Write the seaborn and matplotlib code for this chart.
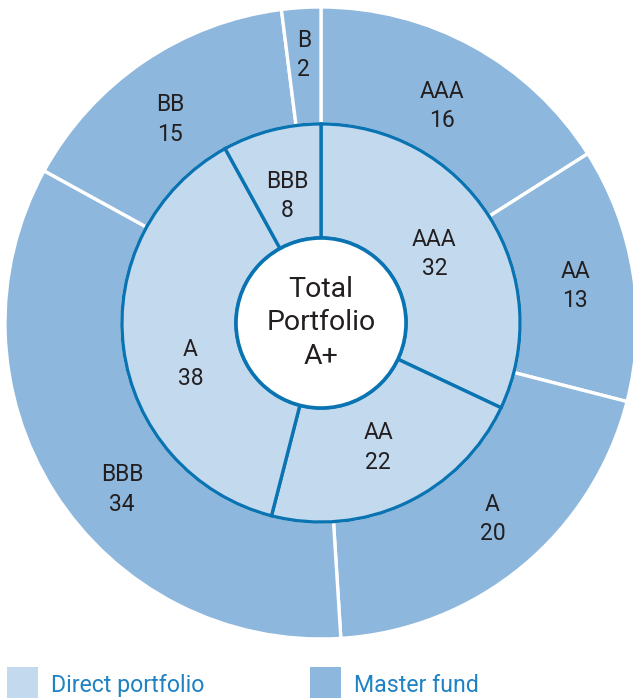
import matplotlib
matplotlib.use("Agg")
import matplotlib.pyplot as plt
import seaborn as sns
import numpy as np
from matplotlib.patches import Circle, Rectangle

# ---- data ----
outer_labels = ["AAA", "AA", "A", "BBB", "BB", "B"]
outer_values = [16, 13, 20, 34, 15, 2]          # Master fund
inner_labels = ["AAA", "AA", "A", "BBB"]
inner_values = [32, 22, 38, 8]                  # Direct portfolio
center_text = ["Total", "Portfolio", "A+"]
legend_labels = ["Direct portfolio", "Master fund"]

# ---- style ----
sns.set_theme(style="white")
plt.rcParams["font.family"] = ["Roboto", "DejaVu Sans"]

C_OUTER = "#8DB7DC"
C_INNER = "#C2D9EE"
C_BLUE = "#0A74B3"
C_TEXT = "#231F20"
C_LEG = "#1F82C4"

# label placement tweaks (angle nudge in degrees, radius)
outer_nudge = {"BBB": (7, 0.815), "AAA": (0, 0.795), "B": (0, 0.86),
               "A": (2, 0.817), "BB": (2, 0.81)}
inner_nudge = {"A": (9, 0.43)}

W, H = 633, 699
fig = plt.figure(figsize=(W / 100, H / 100), dpi=100)
ax = fig.add_axes([0, 0, 1, 1])
ax.set_axis_off()

cx, cy, R = 321, 323, 316  # pixel centre and outer radius

r_in = 0.63
r_c = 0.269

ax.pie(outer_values, radius=1.0, startangle=90, counterclock=False,
       colors=[C_OUTER] * len(outer_values),
       wedgeprops=dict(width=1 - r_in, edgecolor="white", linewidth=2.4))
ax.pie(inner_values, radius=r_in, startangle=90, counterclock=False,
       colors=[C_INNER] * len(inner_values),
       wedgeprops=dict(width=r_in - r_c, edgecolor=C_BLUE, linewidth=2.4))
ax.set_xlim((0 - cx) / R, (W - cx) / R)
ax.set_ylim((cy - H) / R, (cy - 0) / R)
ax.set_aspect("auto")

ax.add_patch(Circle((0, 0), r_c, facecolor="white", edgecolor=C_BLUE,
                    linewidth=2.6, zorder=5))

DY = -3 / R  # small downward shift of label blocks


def put_labels(labels, values, rad, nudge, size):
    tot = float(sum(values))
    cum = 0.0
    for lab, v in zip(labels, values):
        mid = (cum + v / 2) / tot
        cum += v
        dang, rr = nudge.get(lab, (0, rad))
        ang = np.deg2rad(90 - 360 * mid + dang)
        ax.text(rr * np.cos(ang), rr * np.sin(ang) + DY, f"{lab}\n{v}",
                ha="center", va="center", fontsize=size, color=C_TEXT,
                linespacing=1.35, zorder=6)


put_labels(outer_labels, outer_values, 0.815, outer_nudge, 16.5)
put_labels(inner_labels, inner_values, 0.425, inner_nudge, 16.5)

ax.text(0, 0, "\n".join(center_text), ha="center", va="center",
        fontsize=20.5, color=C_TEXT, linespacing=1.33, zorder=7)

# ---- legend ----
leg_colors = [C_INNER, C_OUTER]
patch_x = [7, 310]
for lab, col, px in zip(legend_labels, leg_colors, patch_x):
    fig.patches.append(Rectangle((px / W, 1 / H), 31 / W, 31 / H,
                                 transform=fig.transFigure, facecolor=col,
                                 edgecolor="none"))
    fig.text((px + 44) / W, 7 / H, lab, ha="left", va="baseline",
             fontsize=16.7, color=C_LEG)

fig.savefig("out.png", dpi=100)
